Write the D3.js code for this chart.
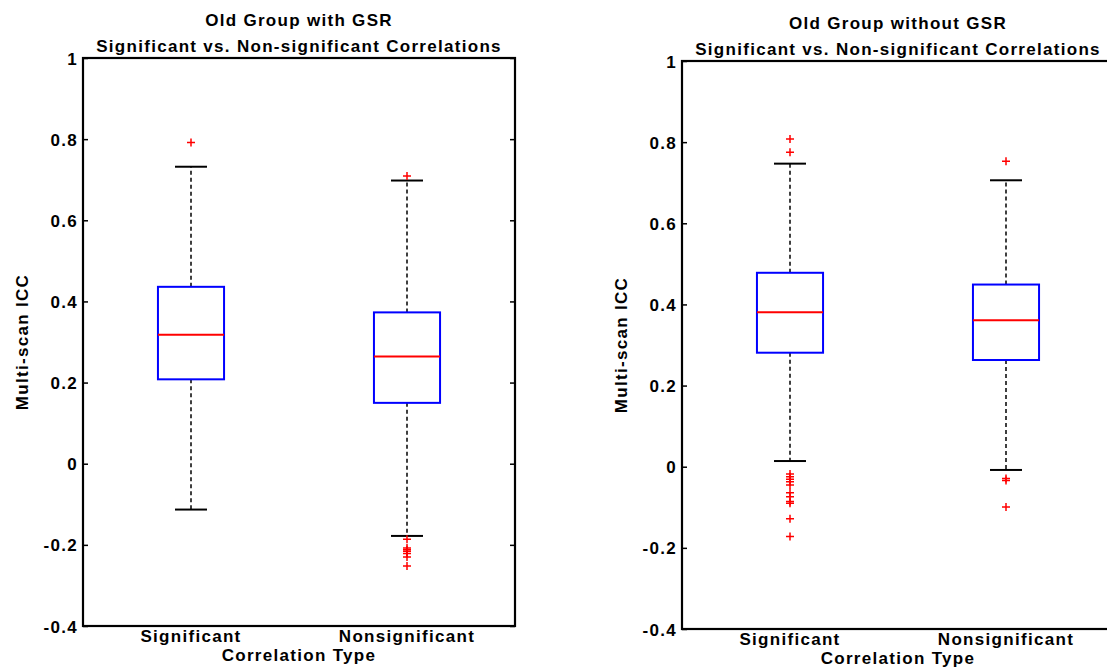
<!DOCTYPE html>
<html>
<head>
<meta charset="utf-8">
<script src="https://cdn.jsdelivr.net/npm/d3@7"></script>
<style>
  html, body { margin: 0; padding: 0; background: #fff; }
  svg { display: block; }
  text { font-family: "Liberation Sans", Arial, sans-serif; font-weight: bold; fill: #000; }
</style>
</head>
<body>
<svg id="chart" width="1107" height="670"></svg>
<script>
// ---------- data ----------
const categories = ["Significant", "Nonsignificant"];
const yTickValues = [-0.4, -0.2, 0, 0.2, 0.4, 0.6, 0.8, 1];
const yTickLabels = ["-0.4", "-0.2", "0", "0.2", "0.4", "0.6", "0.8", "1"];

// Old Group with GSR
const withGSR_q1 = [0.208, 0.150];
const withGSR_median = [0.318, 0.264];
const withGSR_q3 = [0.436, 0.373];
const withGSR_whiskerLow = [-0.113, -0.178];
const withGSR_whiskerHigh = [0.732, 0.698];
const withGSR_outliers = [
  [0.792],
  [0.709, -0.186, -0.208, -0.212, -0.216, -0.221, -0.230, -0.252]
];

// Old Group without GSR
const withoutGSR_q1 = [0.281, 0.263];
const withoutGSR_median = [0.381, 0.361];
const withoutGSR_q3 = [0.478, 0.449];
const withoutGSR_whiskerLow = [0.014, -0.008];
const withoutGSR_whiskerHigh = [0.747, 0.706];
const withoutGSR_outliers = [
  [0.808, 0.775, -0.018, -0.025, -0.031, -0.037, -0.045, -0.064, -0.074, -0.086, -0.090, -0.128, -0.172],
  [0.753, -0.029, -0.034, -0.099]
];

// ---------- layout ----------
const panels = [
  {
    title: ["Old Group with GSR", "Significant vs. Non-significant Correlations"],
    left: 83, right: 515, top: 58, bottom: 626,
    q1: withGSR_q1, median: withGSR_median, q3: withGSR_q3,
    lo: withGSR_whiskerLow, hi: withGSR_whiskerHigh, out: withGSR_outliers
  },
  {
    title: ["Old Group without GSR", "Significant vs. Non-significant Correlations"],
    left: 682, right: 1114, top: 61, bottom: 629,
    q1: withoutGSR_q1, median: withoutGSR_median, q3: withoutGSR_q3,
    lo: withoutGSR_whiskerLow, hi: withoutGSR_whiskerHigh, out: withoutGSR_outliers
  }
];

const svg = d3.select("#chart");
const FS = 17;
const LS = "1.3px";
const boxHalf = 0.153;
const capHalf = 0.074;

panels.forEach(p => {
  const x = d3.scaleLinear().domain([0.5, 2.5]).range([p.left, p.right]);
  const y = d3.scaleLinear().domain([-0.4, 1]).range([p.bottom, p.top]);
  const g = svg.append("g");

  // y axis left (ticks inward)
  const yAxisL = d3.axisLeft(y).tickValues(yTickValues)
    .tickFormat((d, i) => yTickLabels[i]).tickSize(-5).tickPadding(5);
  const ga = g.append("g").attr("transform", `translate(${p.left},0)`).call(yAxisL);
  ga.select(".domain").remove();
  ga.selectAll(".tick line").attr("stroke", "#000").attr("stroke-width", 1.5);
  ga.selectAll(".tick text").style("font-size", FS + "px").style("letter-spacing", LS)
    .attr("font-family", null).attr("dy", "0.36em");

  // y axis right (ticks inward)
  const yAxisR = d3.axisRight(y).tickValues(yTickValues).tickFormat("").tickSize(-5);
  const gr = g.append("g").attr("transform", `translate(${p.right},0)`).call(yAxisR);
  gr.select(".domain").remove();
  gr.selectAll(".tick line").attr("stroke", "#000").attr("stroke-width", 1.5);

  // frame
  g.append("rect")
    .attr("x", p.left).attr("y", p.top)
    .attr("width", p.right - p.left).attr("height", p.bottom - p.top)
    .attr("fill", "none").attr("stroke", "#000").attr("stroke-width", 2.2);

  // boxes
  categories.forEach((c, i) => {
    const pos = i + 1;
    const cx = x(pos);
    // whiskers dashed
    g.append("line").attr("x1", cx).attr("x2", cx)
      .attr("y1", y(p.q3[i])).attr("y2", y(p.hi[i]))
      .attr("stroke", "#000").attr("stroke-width", 1.5).attr("stroke-dasharray", "4,3");
    g.append("line").attr("x1", cx).attr("x2", cx)
      .attr("y1", y(p.q1[i])).attr("y2", y(p.lo[i]))
      .attr("stroke", "#000").attr("stroke-width", 1.5).attr("stroke-dasharray", "4,3");
    // caps
    [p.hi[i], p.lo[i]].forEach(v => {
      g.append("line").attr("x1", x(pos - capHalf)).attr("x2", x(pos + capHalf))
        .attr("y1", y(v)).attr("y2", y(v))
        .attr("stroke", "#000").attr("stroke-width", 2);
    });
    // box
    g.append("rect")
      .attr("x", x(pos - boxHalf)).attr("y", y(p.q3[i]))
      .attr("width", x(pos + boxHalf) - x(pos - boxHalf))
      .attr("height", y(p.q1[i]) - y(p.q3[i]))
      .attr("fill", "none").attr("stroke", "#0000ff").attr("stroke-width", 2);
    // median
    g.append("line").attr("x1", x(pos - boxHalf)).attr("x2", x(pos + boxHalf))
      .attr("y1", y(p.median[i])).attr("y2", y(p.median[i]))
      .attr("stroke", "#ff0000").attr("stroke-width", 2);
    // outliers
    p.out[i].forEach(v => {
      const py = y(v);
      g.append("path")
        .attr("d", `M${cx - 4},${py}H${cx + 4}M${cx},${py - 4}V${py + 4}`)
        .attr("stroke", "#ff0000").attr("stroke-width", 1.5).attr("fill", "none");
    });
    // category label
    g.append("text")
      .attr("x", cx).attr("y", p.bottom + 16)
      .attr("text-anchor", "middle")
      .style("font-size", FS + "px").style("letter-spacing", LS)
      .text(c);
  });

  const midX = x(1.5);

  // x label
  g.append("text")
    .attr("x", midX).attr("y", p.bottom + 35)
    .attr("text-anchor", "middle")
    .style("font-size", FS + "px").style("letter-spacing", LS)
    .text("Correlation Type");

  // y label
  const ym = (p.top + p.bottom) / 2;
  g.append("text")
    .attr("transform", `translate(${p.left - 55},${ym}) rotate(-90)`)
    .attr("text-anchor", "middle")
    .style("font-size", FS + "px").style("letter-spacing", LS)
    .text("Multi-scan ICC");

  // title
  g.append("text")
    .attr("x", midX).attr("y", p.top - 32)
    .attr("text-anchor", "middle")
    .style("font-size", FS + "px").style("letter-spacing", LS)
    .text(p.title[0]);
  g.append("text")
    .attr("x", midX).attr("y", p.top - 6)
    .attr("text-anchor", "middle")
    .style("font-size", FS + "px").style("letter-spacing", LS)
    .text(p.title[1]);
});
</script>
</body>
</html>
